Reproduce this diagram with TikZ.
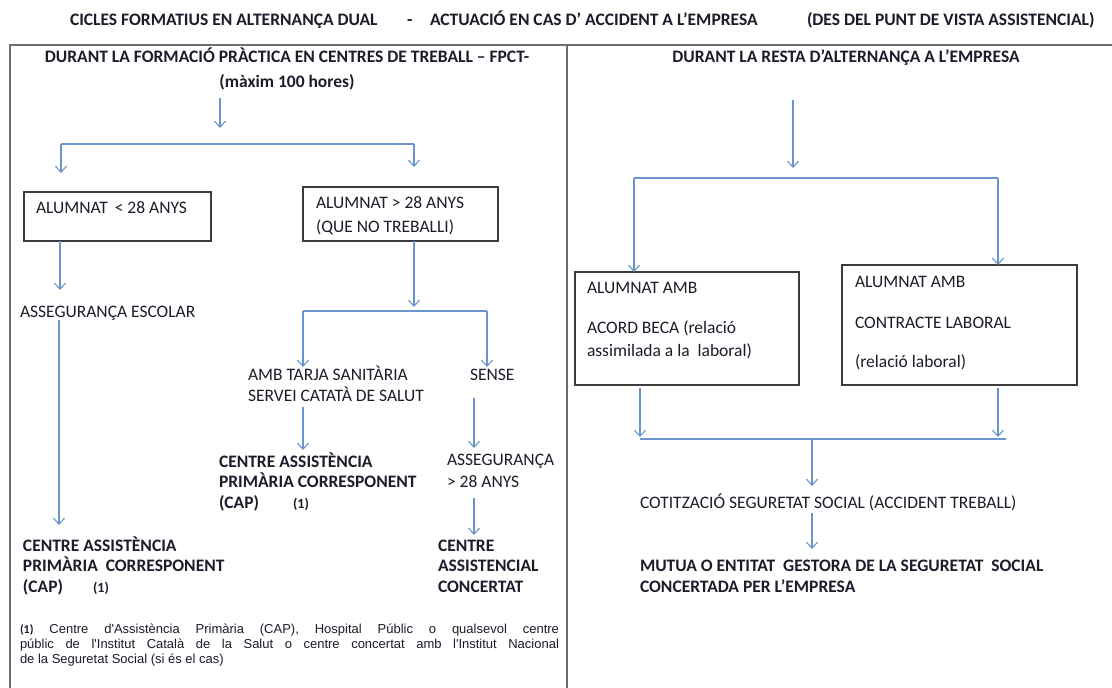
\documentclass[tikz,border=0pt]{standalone}
\usepackage{fontspec}
\setmainfont{Carlito}
\newfontfamily\arialf{Liberation Sans}
\usetikzlibrary{arrows.meta}
\definecolor{arrowblue}{RGB}{105,148,205}
\definecolor{txt}{RGB}{28,28,42}
\definecolor{framegray}{RGB}{110,110,110}
\definecolor{boxgray}{RGB}{60,60,60}
\begin{document}
\begin{tikzpicture}[x=1pt,y=-1pt,
  every node/.style={inner sep=0pt, outer sep=0pt, text=txt},
  rtxt/.style={font=\fontsize{17.5}{22}\selectfont, anchor=base west, align=left},
  btxt/.style={font=\fontsize{17.5}{20.5}\selectfont\bfseries, anchor=base west, align=left},
  boxst/.style={draw=boxgray, line width=1.3pt, rectangle, anchor=north west},
  frame/.style={draw=framegray, line width=1.6pt},
  ln/.style={draw=arrowblue, line width=1.1pt},
  arr/.style={draw=arrowblue, line width=1.1pt, -{Straight Barb[length=6pt,width=11pt,line width=1.1pt]}}
]
\useasboundingbox (0,0) rectangle (1112,688);
\fill[white] (0,0) rectangle (1112,688);

% ---------- header ----------
\node[btxt] (h1) at (70,25) {CICLES FORMATIUS EN ALTERNANÇA DUAL};
\node[btxt] (h2) at (407,25) {-};
\node[btxt] (h3) at (430,25) {ACTUACIÓ EN CAS D’ ACCIDENT A L’EMPRESA};
\node[btxt] (h4) at (807,25) {(DES DEL PUNT DE VISTA ASSISTENCIAL)};

% ---------- frame ----------
\coordinate (ftl) at (10,45);
\coordinate (ftr) at (1112,45);
\coordinate (fbl) at (10,688);
\coordinate (fmt) at (567,45);
\coordinate (fmb) at (567,688);
\draw[frame] (ftr) -- (ftl) -- (fbl);
\draw[frame] (fmt) -- (fmb);

% ---------- left panel ----------
\node[btxt, anchor=base, align=center, font=\fontsize{17.5}{25}\selectfont\bfseries] (hl) at (287,87) {DURANT LA FORMACIÓ PRÀCTICA EN CENTRES DE TREBALL – FPCT-\\(màxim 100 hores)};

\node[boxst, minimum width=187pt, minimum height=49pt] (b1) at (24,192) {};
\node[rtxt] (t1) at (36,213) {ALUMNAT \,< 28 ANYS};
\node[boxst, minimum width=195pt, minimum height=54pt] (b2) at (303,187) {};
\node[rtxt, font=\fontsize{17.5}{24}\selectfont] (t2) at (316,232) {ALUMNAT > 28 ANYS\\(QUE NO TREBALLI)};

\node[rtxt] (esc) at (20,317) {ASSEGURANÇA ESCOLAR};
\node[btxt] (cap1) at (23,592) {CENTRE ASSISTÈNCIA\\PRIMÀRIA \ CORRESPONENT\\(CAP)\hspace{30pt}{\fontsize{14}{15}\selectfont(1)}};

\node[rtxt, font=\fontsize{17.5}{21}\selectfont] (amb) at (248,401) {AMB TARJA SANITÀRIA\\SERVEI CATATÀ DE SALUT};
\node[rtxt] (sense) at (470,380) {SENSE};
\node[btxt] (cap2) at (219,508) {CENTRE ASSISTÈNCIA\\PRIMÀRIA CORRESPONENT\\(CAP)\hspace{34pt}{\fontsize{14}{15}\selectfont(1)}};
\node[rtxt] (ass) at (447,487) {ASSEGURANÇA\\> 28 ANYS};
\node[btxt] (conc) at (438,592) {CENTRE\\ASSISTENCIAL\\CONCERTAT};

\node[anchor=north west, text width=539pt, align=justify,
      font=\arialf\fontsize{13}{15}\selectfont] (fn) at (20,624)
  {{\rmfamily\bfseries\fontsize{12}{15}\selectfont(1)} Centre d'Assistència Primària (CAP), Hospital Públic o qualsevol centre\linebreak
   públic de l'Institut Català de la Salut o centre concertat amb l'Institut Nacional\linebreak
   de la Seguretat Social (si és el cas)};

% left connectors
\coordinate (a0) at (220,98);
\coordinate (a1) at (220,128);
\draw[arr] (a0) -- (a1);
\coordinate (brL) at (61,144);
\coordinate (brR) at (414,144);
\draw[ln] (brL) -- (brR);
\draw[arr] (brL) -- (61,173);
\draw[arr] (brR) -- (414,167);

\draw[arr] (b1.south west) ++(36,0) coordinate (b1s) -- (60,290);
\coordinate (esc1) at (59,320);
\draw[arr] (esc1) -- (59,525);

\draw[arr] (b2.south west) ++(111,0) coordinate (b2s) -- (414,307);
\coordinate (br2L) at (303,311);
\coordinate (br2R) at (487,311);
\draw[ln] (br2L) -- (br2R);
\draw[arr] (br2L) -- (303,367);
\draw[arr] (br2R) -- (487,367);

\coordinate (amb1) at (303,407);
\draw[arr] (amb1) -- (303,450);
\coordinate (sen1) at (474,398);
\draw[arr] (sen1) -- (474,448);
\coordinate (ass1) at (474,498);
\draw[arr] (ass1) -- (474,535);

% ---------- right panel ----------
\node[btxt, anchor=base] (hr) at (846,62) {DURANT LA RESTA D’ALTERNANÇA A L’EMPRESA};

\node[boxst, minimum width=224pt, minimum height=113pt] (b3) at (575,272) {};
\node[rtxt, font=\fontsize{17.5}{23}\selectfont] (t3) at (587,356) {ALUMNAT AMB\\[17pt]ACORD BECA (relació\\assimilada a la \ laboral)};
\node[boxst, minimum width=235pt, minimum height=120pt] (b4) at (842,265) {};
\node[rtxt, font=\fontsize{17.5}{23}\selectfont] (t4) at (855,367) {ALUMNAT AMB\\[18pt]CONTRACTE LABORAL\\[16pt](relació laboral)};

\node[rtxt] (cot) at (640,508) {COTITZACIÓ SEGURETAT SOCIAL (ACCIDENT TREBALL)};
\node[btxt] (mut) at (640,592) {MUTUA O ENTITAT \ GESTORA DE LA SEGURETAT \ SOCIAL\\CONCERTADA PER L’EMPRESA};

\coordinate (r0) at (793,100);
\draw[arr] (r0) -- (793,168);
\coordinate (rbL) at (634,178);
\coordinate (rbR) at (998,178);
\draw[ln] (rbL) -- (rbR);
\draw[arr] (rbL) -- (b3.north west -| rbL);
\draw[arr] (rbR) -- (b4.north west -| rbR);

\coordinate (m1) at (640,388);
\coordinate (m2) at (998,388);
\draw[arr] (m1) -- (640,437);
\draw[arr] (m2) -- (998,437);
\coordinate (mjL) at (640,439);
\coordinate (mjR) at (1006,439);
\draw[ln] (mjL) -- (mjR);
\coordinate (mj) at (812,439);
\draw[arr] (mj) -- (812,486);
\coordinate (cot1) at (812,513);
\draw[arr] (cot1) -- (812,549);
\end{tikzpicture}
\end{document}
